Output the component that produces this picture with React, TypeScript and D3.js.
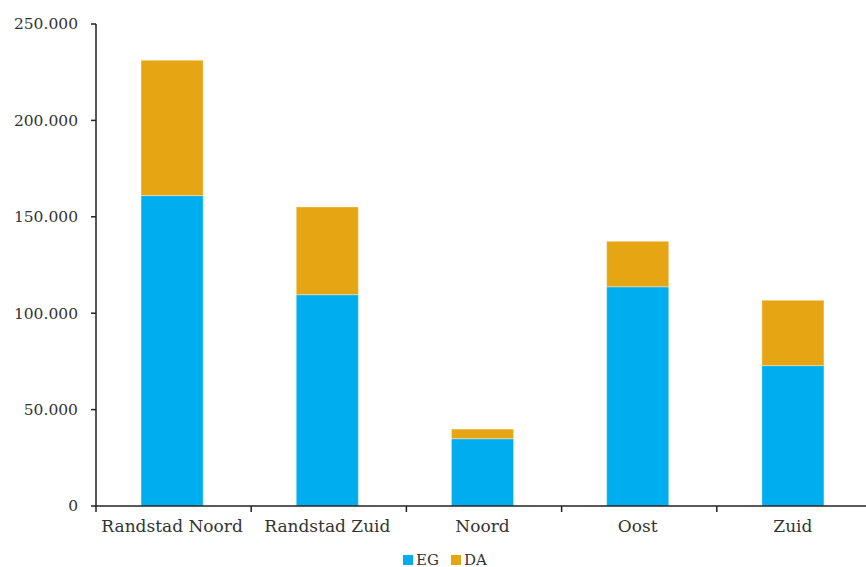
import React from "react";
import * as d3 from "d3";

const categories = ["Randstad Noord", "Randstad Zuid", "Noord", "Oost", "Zuid"];
const seriesNames = ["EG", "DA"];
const egValues = [161000, 109600, 34900, 113700, 72800];
const daValues = [70200, 45500, 5000, 23600, 33900];
const yTicks = [0, 50000, 100000, 150000, 200000, 250000];
const colors = ["#00AEEF", "#E6A614"];

const W = 866;
const H = 567;
const left = 96;
const top = 24;
const bottom = 506;
const font = "'DejaVu Serif', serif";
const textColor = "#333333";

const fmt = (v: number) => d3.format(",")(v).replace(/,/g, ".");

export default function App() {
  const x = d3.scaleBand<string>().domain(categories).range([left, 872]).paddingInner(0.6).paddingOuter(0.3);
  const step = x.step();
  const y = d3.scaleLinear().domain([0, 250000]).range([bottom, top]);

  const rows = categories.map((c, i) => ({ cat: c, EG: egValues[i], DA: daValues[i] }));
  const stacked = d3.stack<any>().keys(seriesNames)(rows);

  const boundaries = d3.range(categories.length).map((i) => left + i * step);
  const barShift = -1.5;

  return (
    <svg width={W} height={H} style={{ position: "absolute", left: 0, top: 0, background: "#fff" }}>
      {stacked.map((layer, li) =>
        layer.map((d, i) => (
          <rect
            key={`${li}-${i}`}
            x={x(categories[i])! + barShift}
            y={y(d[1])}
            width={x.bandwidth()}
            height={y(d[0]) - y(d[1])}
            fill={colors[li]}
            stroke="rgba(255,255,255,0.35)"
            strokeWidth={1}
          />
        ))
      )}
      {/* y axis */}
      <line x1={left} x2={left} y1={top} y2={bottom} stroke="#222" strokeWidth={1.5} />
      {yTicks.map((t) => (
        <g key={t}>
          <line x1={left - 5} x2={left} y1={y(t)} y2={y(t)} stroke="#222" strokeWidth={1.5} />
          <text x={78} y={y(t)} dy="0.35em" textAnchor="end" fontFamily={font} fontSize={15.5} fill={textColor}>
            {fmt(t)}
          </text>
        </g>
      ))}
      {/* x axis */}
      <line x1={left} x2={W} y1={bottom} y2={bottom} stroke="#222" strokeWidth={1.5} />
      {boundaries.map((b, i) => (
        <line key={i} x1={b} x2={b} y1={bottom} y2={bottom + 6} stroke="#222" strokeWidth={1.5} />
      ))}
      {categories.map((c) => (
        <text
          key={c}
          x={x(c)! + x.bandwidth() / 2 + barShift}
          y={532}
          textAnchor="middle"
          fontFamily={font}
          fontSize={17}
          fill={textColor}
        >
          {c}
        </text>
      ))}
      {/* legend */}
      {seriesNames.map((s, i) => (
        <g key={s} transform={`translate(${403 + i * 48},555)`}>
          <rect x={0} y={0} width={10} height={10} fill={colors[i]} />
          <text x={13} y={9.5} fontFamily={font} fontSize={15} fill={textColor}>
            {s}
          </text>
        </g>
      ))}
    </svg>
  );
}
